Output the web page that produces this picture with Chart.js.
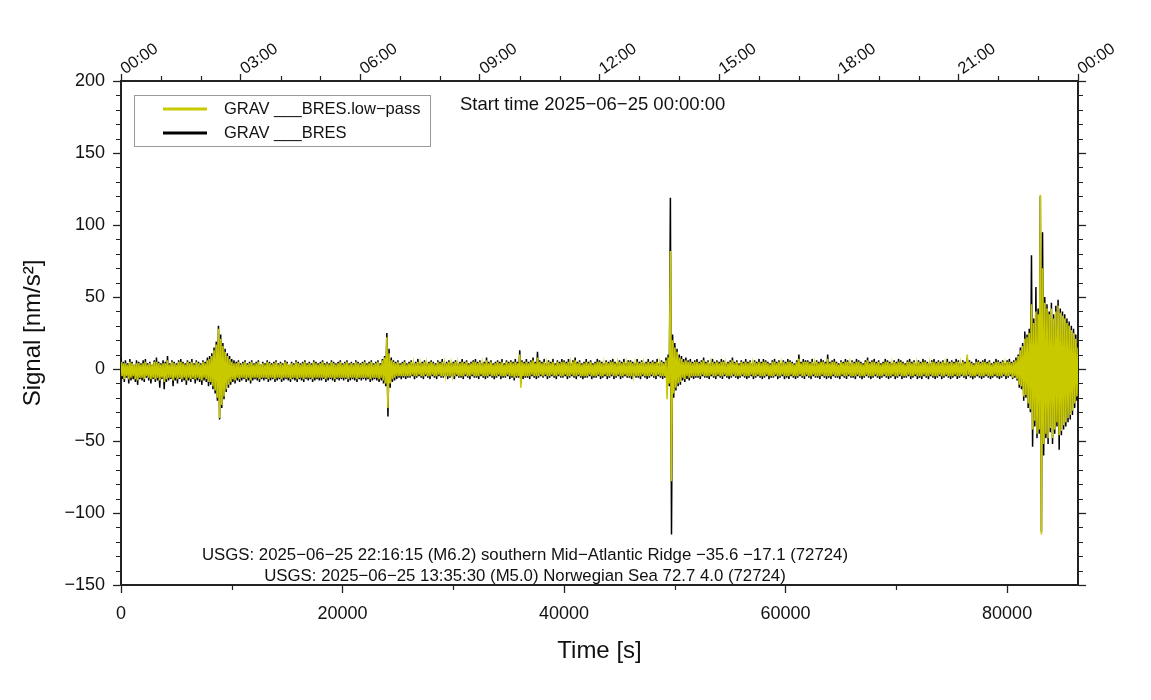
<!DOCTYPE html>
<html>
<head>
<meta charset="utf-8">
<script src="https://cdn.jsdelivr.net/npm/chart.js@4.4.1/dist/chart.umd.min.js"></script>
<style>
  html, body { margin: 0; padding: 0; background: #fff; }
  #wrap { width: 1151px; height: 700px; }
</style>
</head>
<body>
<div id="wrap"><canvas id="gravChart" width="1151" height="700"></canvas></div>
<script>
// samples every 100 s, starting 2025-06-25 00:00:00
const sampleStep = 100;
const startTime = '2025−06−25 00:00:00';
const seriesLabels = ['GRAV ___BRES.low−pass', 'GRAV ___BRES'];
const seriesColors = ['#c9c900', '#000000'];

const rawSignal = [
  8, -7, 5, -9, 6, -6, 4, -10, 7, -8, 5, -7, 3, -9, 6, -11, 5, -7, 4, -8,
  6, -9, 7, -6, 4, -8, 5, -10, 3, -7, 6, -9, 8, -8, 5, -13, 4, -7, 6, -14,
  5, -9, 9, -8, 4, -7, 6, -12, 5, -8, 4, -10, 6, -7, 7, -9, 5, -8, 4, -11,
  6, -8, 5, -9, 7, -7, 4, -10, 6, -8, 5, -9, 4, -11, 6, -8, 5, -9, 8, -12,
  9, -11, 11, -14, 15, -17, 19, -22, 30, -35, 24, -27, 18, -21, 14, -16, 11, -13, 9, -11,
  7, -9, 6, -10, 5, -8, 6, -9, 4, -8, 5, -7, 6, -9, 4, -8, 5, -10, 6, -8,
  4, -7, 5, -8, 6, -9, 3, -7, 5, -8, 4, -7, 6, -9, 5, -8, 4, -7, 5, -9,
  6, -8, 4, -7, 5, -9, 4, -8, 6, -7, 5, -8, 3, -9, 5, -7, 4, -8, 6, -9,
  5, -7, 4, -8, 5, -9, 6, -7, 4, -8, 5, -7, 4, -9, 6, -8, 5, -7, 4, -8,
  5, -8, 6, -7, 4, -9, 5, -8, 4, -7, 6, -8, 5, -9, 4, -7, 5, -8, 6, -7,
  4, -8, 5, -7, 6, -9, 4, -8, 5, -7, 4, -8, 6, -9, 5, -7, 4, -8, 5, -7,
  6, -8, 4, -7, 5, -9, 6, -8, 4, -7, 5, -8, 6, -9, 4, -8, 7, -10, 9, -12,
  25, -33, 14, -13, 8, -9, 6, -8, 5, -7, 6, -6, 4, -7, 5, -6, 6, -7, 4, -6,
  5, -6, 6, -5, 4, -7, 5, -6, 7, -5, 4, -6, 5, -7, 6, -5, 4, -6, 5, -7,
  6, -5, 5, -6, 4, -7, 6, -5, 5, -6, 7, -6, 4, -5, 5, -7, 6, -6, 4, -5,
  5, -7, 6, -5, 4, -6, 5, -6, 7, -7, 5, -5, 6, -6, 4, -7, 5, -5, 6, -6,
  7, -6, 5, -7, 6, -5, 4, -6, 5, -7, 8, -6, 5, -5, 6, -6, 4, -7, 5, -6,
  6, -5, 5, -7, 7, -6, 4, -6, 6, -5, 5, -7, 6, -6, 5, -8, 7, -6, 5, -6,
  13, -10, 6, -7, 5, -6, 7, -6, 5, -7, 6, -5, 8, -6, 5, -7, 12, -6, 6, -5,
  5, -6, 7, -5, 4, -7, 6, -6, 5, -5, 7, -6, 4, -7, 6, -5, 5, -6, 7, -6,
  6, -5, 5, -7, 7, -6, 4, -5, 6, -6, 8, -7, 5, -5, 6, -6, 4, -7, 5, -6,
  7, -6, 5, -5, 6, -7, 4, -6, 5, -6, 7, -5, 6, -7, 5, -6, 4, -5, 6, -7,
  5, -6, 6, -5, 7, -7, 5, -6, 4, -5, 6, -7, 5, -6, 7, -5, 4, -6, 6, -6,
  6, -7, 5, -5, 4, -6, 7, -6, 5, -7, 6, -5, 4, -6, 5, -7, 7, -6, 5, -5,
  6, -6, 5, -7, 7, -5, 4, -6, 6, -7, 5, -6, 8, -9, 10, -12, 119, -115, 24, -20,
  18, -15, 14, -12, 10, -11, 9, -8, 7, -9, 8, -7, 6, -8, 7, -6, 5, -7, 6, -6,
  7, -6, 5, -7, 6, -5, 8, -6, 5, -6, 6, -7, 4, -5, 7, -6, 5, -7, 6, -5,
  5, -6, 7, -7, 6, -5, 4, -6, 5, -7, 6, -6, 8, -5, 5, -6, 6, -7, 4, -6,
  6, -5, 5, -6, 7, -7, 5, -6, 6, -5, 4, -7, 6, -6, 5, -5, 7, -6, 5, -7,
  7, -6, 6, -5, 5, -7, 4, -6, 6, -6, 7, -5, 5, -7, 6, -6, 4, -5, 6, -7,
  5, -6, 7, -7, 6, -5, 5, -6, 4, -7, 6, -6, 10, -5, 5, -6, 7, -7, 6, -5,
  6, -6, 5, -7, 7, -5, 4, -6, 6, -6, 5, -7, 7, -5, 6, -6, 5, -7, 10, -6,
  5, -7, 6, -5, 7, -6, 5, -6, 4, -7, 6, -5, 5, -6, 7, -7, 6, -5, 4, -6,
  6, -6, 5, -7, 7, -5, 6, -6, 5, -7, 4, -6, 6, -5, 8, -6, 5, -7, 6, -6,
  7, -5, 5, -6, 6, -7, 4, -6, 5, -5, 7, -6, 6, -7, 5, -6, 4, -5, 6, -7,
  5, -6, 7, -5, 6, -7, 5, -6, 4, -6, 6, -5, 7, -7, 5, -6, 6, -5, 4, -7,
  6, -6, 5, -7, 7, -5, 6, -6, 5, -7, 4, -5, 6, -6, 7, -7, 5, -6, 6, -5,
  5, -7, 6, -6, 4, -5, 7, -6, 5, -7, 6, -6, 5, -5, 7, -7, 6, -6, 4, -5,
  6, -6, 5, -7, 8, -5, 6, -6, 5, -7, 4, -6, 7, -5, 6, -6, 5, -7, 6, -6,
  7, -5, 5, -6, 6, -7, 4, -6, 5, -5, 7, -6, 6, -7, 5, -6, 6, -5, 4, -7,
  6, -6, 7, -5, 5, -7, 6, -6, 8, -8, 10, -13, 15, -14, 18, -22, 26, -20, 24, -27,
  28, -30, 79, -54, 35, -40, 57, -48, 42, -45, 120, -113, 95, -60, 50, -48, 45, -52, 40, -44,
  46, -52, 38, -45, 44, -40, 48, -56, 42, -46, 40, -42, 38, -40, 35, -37, 33, -35, 30, -32,
  28, -27, 24, -22, 18
];

const lowPass = [
  5, -5, 4, -7, 4, -5, 3, -7, 5, -6, 4, -5, 3, -7, 4, -8, 4, -6, 3, -6,
  4, -7, 5, -5, 3, -6, 4, -7, 3, -6, 5, -7, 5, -6, 4, -8, 3, -6, 4, -9,
  4, -7, 6, -6, 3, -6, 5, -8, 4, -6, 3, -7, 5, -6, 5, -7, 4, -6, 3, -8,
  5, -6, 4, -7, 5, -6, 3, -7, 5, -6, 4, -7, 3, -8, 5, -6, 4, -7, 6, -9,
  7, -9, 9, -12, 13, -15, 17, -20, 28, -34, 21, -25, 16, -19, 12, -14, 9, -11, 7, -9,
  5, -7, 4, -8, 4, -6, 5, -7, 3, -6, 4, -6, 5, -7, 3, -6, 4, -8, 5, -6,
  3, -6, 4, -6, 5, -7, 3, -6, 4, -6, 3, -6, 5, -7, 4, -6, 3, -6, 4, -7,
  5, -6, 3, -6, 4, -7, 3, -6, 5, -6, 4, -6, 3, -7, 4, -6, 3, -6, 5, -7,
  4, -6, 3, -6, 4, -7, 5, -6, 3, -6, 4, -6, 3, -7, 5, -6, 4, -6, 3, -6,
  4, -6, 5, -6, 3, -7, 4, -6, 3, -6, 5, -6, 4, -7, 3, -6, 4, -6, 5, -6,
  3, -6, 4, -6, 5, -7, 3, -6, 4, -6, 3, -6, 5, -7, 4, -6, 3, -6, 4, -6,
  5, -6, 3, -6, 4, -7, 5, -6, 3, -6, 4, -6, 5, -7, 3, -6, 6, -8, 8, -10,
  22, -27, 11, -10, 6, -7, 5, -6, 4, -5, 5, -5, 3, -5, 4, -5, 5, -5, 3, -5,
  4, -5, 5, -4, 3, -5, 4, -5, 5, -4, 3, -5, 4, -5, 5, -4, 3, -5, 4, -5,
  5, -4, 4, -5, 3, -5, 5, -4, 4, -5, 5, -5, 3, -4, 4, -5, 5, -5, 3, -4,
  4, -5, 5, -4, 3, -5, 4, -5, 5, -5, 4, -4, 5, -5, 3, -5, 4, -4, 5, -5,
  5, -5, 4, -5, 5, -4, 3, -5, 4, -5, 6, -5, 4, -4, 5, -5, 3, -5, 4, -5,
  5, -4, 4, -5, 5, -5, 3, -5, 5, -4, 4, -5, 5, -5, 4, -6, 5, -5, 4, -5,
  10, -13, 5, -5, 4, -5, 5, -5, 4, -5, 5, -4, 6, -5, 4, -5, 8, -5, 5, -4,
  4, -5, 5, -4, 3, -5, 5, -5, 4, -4, 5, -5, 3, -5, 5, -4, 4, -5, 5, -5,
  5, -4, 4, -5, 5, -5, 3, -4, 5, -5, 6, -5, 4, -4, 5, -5, 3, -5, 4, -5,
  5, -5, 4, -4, 5, -5, 3, -5, 4, -5, 5, -4, 5, -5, 4, -5, 3, -4, 5, -5,
  4, -5, 5, -4, 5, -5, 4, -5, 3, -4, 5, -5, 4, -5, 5, -4, 3, -5, 5, -5,
  5, -5, 4, -4, 3, -5, 5, -5, 4, -5, 5, -4, 3, -5, 4, -5, 5, -5, 4, -4,
  5, -5, 4, -5, 5, -4, 3, -5, 5, -5, 4, -5, 6, -21, 8, -10, 82, -78, 20, -17,
  15, -13, 12, -10, 8, -9, 7, -6, 5, -7, 6, -5, 5, -6, 5, -5, 4, -5, 5, -5,
  5, -5, 4, -5, 5, -4, 6, -5, 4, -5, 5, -5, 3, -4, 5, -5, 4, -5, 5, -4,
  4, -5, 5, -5, 5, -4, 3, -5, 4, -5, 5, -5, 6, -4, 4, -5, 5, -5, 3, -5,
  5, -4, 4, -5, 5, -5, 4, -5, 5, -4, 3, -5, 5, -5, 4, -4, 5, -5, 4, -5,
  5, -5, 5, -4, 4, -5, 3, -5, 5, -5, 5, -4, 4, -5, 5, -5, 3, -4, 5, -5,
  4, -5, 5, -5, 5, -4, 4, -5, 3, -5, 5, -5, 7, -4, 4, -5, 5, -5, 5, -4,
  5, -5, 4, -5, 5, -4, 3, -5, 5, -5, 4, -5, 5, -4, 5, -5, 4, -5, 7, -5,
  4, -5, 5, -4, 5, -5, 4, -5, 3, -5, 5, -4, 4, -5, 5, -5, 5, -4, 3, -5,
  5, -5, 4, -5, 5, -4, 5, -5, 4, -5, 3, -5, 5, -4, 6, -5, 4, -5, 5, -5,
  5, -4, 4, -5, 5, -5, 3, -5, 4, -4, 5, -5, 5, -5, 4, -5, 3, -4, 5, -5,
  4, -5, 5, -4, 5, -5, 4, -5, 3, -5, 5, -4, 5, -5, 4, -5, 5, -4, 3, -5,
  5, -5, 4, -5, 5, -4, 5, -5, 4, -5, 3, -4, 5, -5, 5, -5, 4, -5, 5, -4,
  4, -5, 5, -5, 3, -4, 5, -5, 4, -5, 5, -5, 4, -4, 5, -5, 5, -5, 3, -4,
  5, -5, 4, -5, 10, -4, 5, -5, 4, -5, 3, -5, 5, -4, 5, -5, 4, -5, 5, -5,
  5, -4, 4, -5, 5, -5, 3, -5, 4, -4, 5, -5, 5, -5, 4, -5, 5, -4, 3, -5,
  5, -5, 5, -4, 4, -6, 5, -5, 6, -7, 9, -11, 13, -12, 16, -19, 21, -18, 22, -24,
  25, -28, 45, -42, 32, -36, 40, -45, 38, -42, 121, -115, 70, -52, 46, -45, 42, -48, 38, -41,
  42, -48, 35, -42, 40, -37, 44, -46, 39, -43, 37, -39, 35, -37, 32, -34, 30, -32, 27, -29,
  25, -24, 21, -19, 15
];

const xTickValues = [0, 20000, 40000, 60000, 80000];
const eventNotes = [
  'USGS: 2025−06−25 22:16:15 (M6.2) southern Mid−Atlantic Ridge −35.6 −17.1 (72724)',
  'USGS: 2025−06−25 13:35:30 (M5.0) Norwegian Sea 72.7 4.0 (72724)'
];

const FONT = '"Liberation Sans", Arial, Helvetica, sans-serif';
const INK = '#222';

const toPoints = arr => arr.map((v, i) => ({ x: i * sampleStep, y: v }));

const frameGrid = {
  drawOnChartArea: false,
  tickLength: 8,
  tickColor: INK,
  tickWidth: 1.3
};
const frameBorder = { display: true, width: 2, color: INK };

// minor ticks on all four sides
const minorTicks = {
  id: 'minorTicks',
  afterDraw(chart) {
    const { ctx, chartArea: a, scales } = chart;
    ctx.save();
    ctx.strokeStyle = INK;
    ctx.lineWidth = 1.2;
    ctx.beginPath();
    for (let v = -150; v <= 200; v += 10) {
      if (v % 50 === 0) continue;
      const y = Math.round(scales.y.getPixelForValue(v)) + 0.5;
      ctx.moveTo(a.left - 1, y); ctx.lineTo(a.left - 5, y);
      ctx.moveTo(a.right + 1, y); ctx.lineTo(a.right + 5, y);
    }
    for (let v = 10000; v < 86400; v += 20000) {
      const x = Math.round(scales.x.getPixelForValue(v)) + 0.5;
      ctx.moveTo(x, a.bottom + 1); ctx.lineTo(x, a.bottom + 5);
    }
    for (let h = 1; h < 24; h++) {
      if (h % 3 === 0) continue;
      const x = Math.round(scales.xTop.getPixelForValue(h * 3600)) + 0.5;
      ctx.moveTo(x, a.top - 1); ctx.lineTo(x, a.top - 5);
    }
    ctx.stroke();
    ctx.restore();
  }
};

// legend box, start time and event lines
const notes = {
  id: 'notes',
  afterDraw(chart) {
    const ctx = chart.ctx;
    ctx.save();
    ctx.fillStyle = '#fff';
    ctx.fillRect(134.5, 95.5, 296, 51);
    ctx.strokeStyle = '#9a9a9a';
    ctx.lineWidth = 1;
    ctx.strokeRect(134.5, 95.5, 296, 51);
    ctx.textBaseline = 'middle';
    ctx.textAlign = 'left';
    chart.data.datasets.forEach((ds, i) => {
      const y = 109 + i * 24;
      ctx.strokeStyle = ds.borderColor;
      ctx.lineWidth = 3;
      ctx.beginPath();
      ctx.moveTo(163, y);
      ctx.lineTo(207, y);
      ctx.stroke();
      ctx.fillStyle = '#111';
      ctx.font = '16.5px ' + FONT;
      ctx.fillText(ds.label, 224, y);
    });
    ctx.font = '18.5px ' + FONT;
    ctx.fillText('Start time ' + startTime, 460, 105);
    ctx.font = '16.8px ' + FONT;
    ctx.textAlign = 'center';
    eventNotes.forEach((t, i) => ctx.fillText(t, 525, 555 + i * 21));
    ctx.restore();
  }
};

new Chart(document.getElementById('gravChart'), {
  type: 'line',
  data: {
    datasets: [
      {
        label: seriesLabels[0],
        data: toPoints(lowPass),
        borderColor: seriesColors[0],
        borderWidth: 1.6,
        pointRadius: 0,
        tension: 0
      },
      {
        label: seriesLabels[1],
        data: toPoints(rawSignal),
        borderColor: seriesColors[1],
        borderWidth: 1.5,
        pointRadius: 0,
        tension: 0
      }
    ]
  },
  plugins: [minorTicks, notes],
  options: {
    responsive: false,
    devicePixelRatio: 1,
    animation: false,
    layout: { padding: 0 },
    plugins: {
      legend: { display: false },
      tooltip: { enabled: false }
    },
    scales: {
      x: {
        type: 'linear',
        position: 'bottom',
        min: 0,
        max: 86400,
        afterBuildTicks: s => { s.ticks = xTickValues.map(v => ({ value: v })); },
        afterFit: s => { s.height = 115; },
        grid: frameGrid,
        border: frameBorder,
        ticks: {
          color: '#111',
          padding: 10,
          maxRotation: 0,
          font: { family: FONT, size: 18 },
          callback: v => String(v)
        },
        title: {
          display: true,
          text: 'Time [s]',
          color: '#111',
          font: { family: FONT, size: 24 },
          padding: { top: 0, bottom: 34 }
        }
      },
      xTop: {
        type: 'linear',
        position: 'top',
        min: 0,
        max: 86400,
        afterFit: s => { s.height = 81; },
        grid: Object.assign({}, frameGrid, { tickLength: 7 }),
        border: frameBorder,
        ticks: {
          stepSize: 10800,
          autoSkip: false,
          minRotation: 35,
          maxRotation: 35,
          padding: -5,
          labelOffset: 13,
          color: '#111',
          font: { family: FONT, size: 16.5 },
          callback: v => String(Math.round(v / 3600) % 24).padStart(2, '0') + ':00'
        }
      },
      y: {
        type: 'linear',
        position: 'left',
        min: -150,
        max: 200,
        afterFit: s => { s.width = 121; },
        grid: frameGrid,
        border: frameBorder,
        ticks: {
          stepSize: 50,
          padding: 8,
          color: '#111',
          font: { family: FONT, size: 18 },
          callback: v => String(v).replace('-', '−')
        },
        title: {
          display: true,
          text: 'Signal [nm/s²]',
          color: '#111',
          font: { family: FONT, size: 24 },
          padding: { top: 19, bottom: 0 }
        }
      },
      yRight: {
        type: 'linear',
        position: 'right',
        min: -150,
        max: 200,
        afterFit: s => { s.width = 73; },
        grid: frameGrid,
        border: frameBorder,
        ticks: { stepSize: 50, callback: () => '' }
      }
    }
  }
});
</script>
</body>
</html>
